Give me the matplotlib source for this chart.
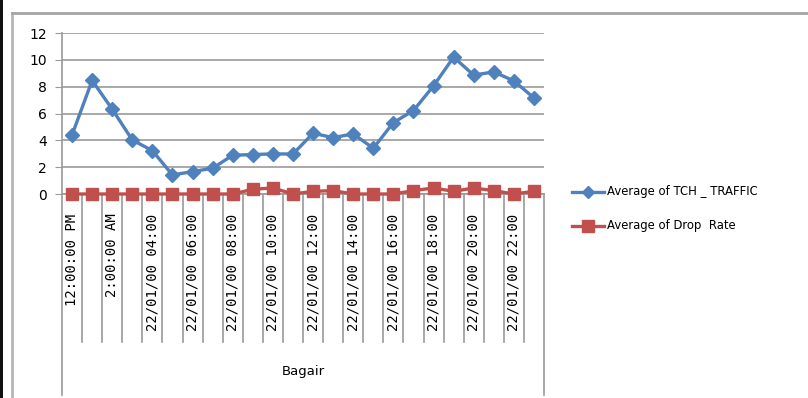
import numpy as np
import matplotlib
matplotlib.use("Agg")
import matplotlib.pyplot as plt
import matplotlib.transforms as mtransforms
from matplotlib.lines import Line2D
from matplotlib.patches import Rectangle

# hourly averages for site Bagair
hours = ["12:00:00 PM", "", "2:00:00 AM", "", "22/01/00 04:00", "", "22/01/00 06:00", "",
         "22/01/00 08:00", "", "22/01/00 10:00", "", "22/01/00 12:00", "", "22/01/00 14:00", "",
         "22/01/00 16:00", "", "22/01/00 18:00", "", "22/01/00 20:00", "", "22/01/00 22:00", ""]
tch_traffic = [4.4, 8.46, 6.32, 4.03, 3.23, 1.42, 1.67, 1.92, 2.89, 2.94, 2.99, 2.98,
               4.53, 4.2, 4.48, 3.41, 5.32, 6.22, 8.06, 10.2, 8.86, 9.1, 8.43, 7.16]
drop_rate = [0, 0, 0, 0, 0, 0, 0, 0, 0, 0.35, 0.45, 0,
             0.2, 0.25, 0, 0, 0, 0.25, 0.45, 0.2, 0.45, 0.25, 0, 0.2]
site = "Bagair"

blue = "#4F81BD"
red = "#C0504D"
grid_col = "#9a9a9a"

W, H = 808, 398
fig = plt.figure(figsize=(W / 100, H / 100), dpi=100)

# plot area in pixel terms
x0, x1, ytop, ybot = 62, 544, 33, 194
ax = fig.add_axes([x0 / W, (H - ybot) / H, (x1 - x0) / W, (ybot - ytop) / H])

n = len(tch_traffic)
x = np.arange(n)
ax.plot(x, tch_traffic, color=blue, lw=2.4, marker="D", ms=7.5, zorder=4, clip_on=False)
ax.plot(x, drop_rate, color=red, lw=2.4, marker="s", ms=8, zorder=5, clip_on=False)

ax.set_xlim(-0.5, n - 0.5)
ax.set_ylim(0, 12)
ax.set_yticks(range(0, 13, 2))
ax.yaxis.grid(True, color=grid_col, lw=1.2)
ax.set_axisbelow(True)
for s in ["top", "right"]:
    ax.spines[s].set_visible(False)
ax.spines["left"].set_color(grid_col)
ax.spines["bottom"].set_color(grid_col)
ax.spines["left"].set_linewidth(1.2)
ax.spines["bottom"].set_linewidth(1.2)
ax.tick_params(axis="y", length=5, color=grid_col, labelsize=10, pad=6)
ax.set_yticklabels([str(v) for v in range(0, 13, 2)], family="DejaVu Sans")

ax.set_xticks(x)
ax.set_xticklabels(hours, rotation=90, va="top", ha="center",
                   family="DejaVu Sans Mono", fontsize=10)
ax.tick_params(axis="x", length=0, pad=14)

# category table lines under the axis
trans = mtransforms.blended_transform_factory(ax.transData, ax.transAxes)
h_px = ybot - ytop
inner = -(342 - ybot) / h_px
outer = -(395 - ybot) / h_px
for k in range(n + 1):
    b = k - 0.5
    low = outer if k in (0, n) else inner
    ax.add_line(Line2D([b, b], [0, low], transform=trans, color=grid_col,
                       lw=1.2, clip_on=False))
ax.text((n - 1) / 2, -(372 - ybot) / h_px, site, transform=trans,
        ha="center", va="center", fontsize=9.5)

# legend drawn by hand to the right of the plot
for yy, col, mk, ms, lab in [(192, blue, "D", 6.5, "Average of TCH _ TRAFFIC"),
                             (226, red, "s", 8, "Average of Drop  Rate")]:
    fy = (H - yy) / H
    fig.add_artist(Line2D([572 / W, 604 / W], [fy, fy], color=col, lw=2.4))
    fig.add_artist(Line2D([588 / W], [fy], color=col, marker=mk, ms=ms))
    fig.text(607 / W, fy, lab, ha="left", va="center", fontsize=8.4)

# outer chart frame
fig.add_artist(Rectangle((0, 0), 3 / W, 1, transform=fig.transFigure,
                         color="#111111", lw=0))
fig.add_artist(Line2D([12 / W, 12 / W], [0, (H - 13) / H], color="#b5b5b5", lw=2))
fig.add_artist(Line2D([12 / W, 1], [(H - 13) / H, (H - 13) / H], color="#a5a5a5", lw=2))

fig.savefig("out.png", dpi=100)
